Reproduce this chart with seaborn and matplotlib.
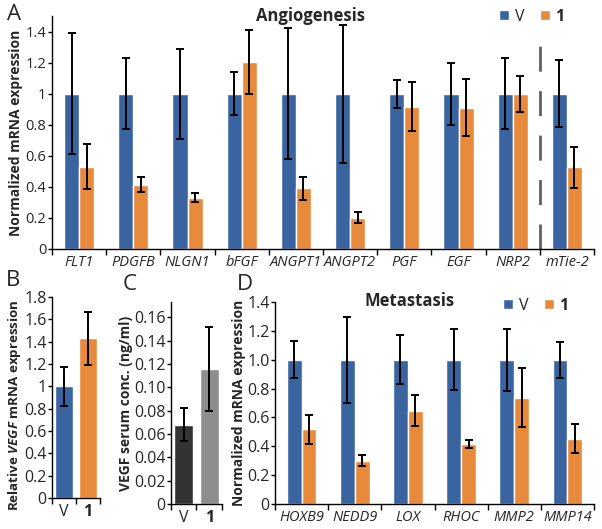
import numpy as np
import pandas as pd
import matplotlib
matplotlib.use('Agg')
import matplotlib.pyplot as plt
import seaborn as sns

# data
angio_genes = ['FLT1', 'PDGFB', 'NLGN1', 'bFGF', 'ANGPT1', 'ANGPT2', 'PGF', 'EGF', 'NRP2', 'mTie-2']
angio_v = [1, 1, 1, 1, 1, 1, 1, 1, 1, 1]
angio_v_err = [0.39, 0.23, 0.29, 0.14, 0.42, 0.445, 0.09, 0.20, 0.23, 0.215]
angio_1 = [0.53, 0.415, 0.33, 1.205, 0.39, 0.20, 0.915, 0.91, 1.0, 0.525]
angio_1_err = [0.145, 0.05, 0.03, 0.205, 0.072, 0.035, 0.157, 0.183, 0.115, 0.133]

vegf_groups = ['V', '1']
vegf_mrna = [1.0, 1.43]
vegf_mrna_err = [0.175, 0.24]
vegf_serum = [0.068, 0.116]
vegf_serum_err = [0.014, 0.036]

meta_genes = ['HOXB9', 'NEDD9', 'LOX', 'RHOC', 'MMP2', 'MMP14']
meta_v = [1, 1, 1, 1, 1, 1]
meta_v_err = [0.127, 0.298, 0.169, 0.211, 0.215, 0.126]
meta_1 = [0.517, 0.301, 0.646, 0.416, 0.738, 0.453]
meta_1_err = [0.098, 0.037, 0.107, 0.031, 0.205, 0.10]

BLUE = '#3A64A0'
ORANGE = '#E88A3C'

sns.set_theme(style='white')
plt.rcParams['font.family'] = ['Open Sans', 'DejaVu Sans']
plt.rcParams['mathtext.fontset'] = 'custom'
plt.rcParams['mathtext.it'] = 'Open Sans:italic:bold'
plt.rcParams['mathtext.rm'] = 'Open Sans:bold'
plt.rcParams['axes.edgecolor'] = 'black'
plt.rcParams['axes.linewidth'] = 1.0


def style_axis(ax, n, yticks, ylabels, ylim, fs):
    sns.despine(ax=ax)
    ax.set_xlim(-0.5, n - 0.5)
    ax.set_ylim(*ylim)
    ax.set_yticks(yticks)
    ax.set_yticklabels(ylabels, fontsize=fs)
    ax.set_xticks(np.arange(n))
    ax.set_xticks(np.arange(n + 1) - 0.5, minor=True)
    ax.tick_params(axis='x', which='major', length=0, pad=4)
    ax.tick_params(axis='x', which='minor', length=4, width=1, direction='out', bottom=True, color='black')
    ax.tick_params(axis='y', length=3, width=1, direction='out', left=True, pad=1, color='black')
    ax.set_xlabel('')


def grouped_panel(ax, genes, v, v_err, one, one_err):
    df = pd.DataFrame({
        'gene': genes * 2,
        'group': ['V'] * len(genes) + ['1'] * len(genes),
        'value': list(v) + list(one),
    })
    sns.barplot(data=df, x='gene', y='value', hue='group', hue_order=['V', '1'],
                palette={'V': BLUE, '1': ORANGE}, width=0.56, errorbar=None,
                saturation=1, ax=ax)
    for cont, err in zip(ax.containers, [v_err, one_err]):
        xs = [b.get_x() + b.get_width() / 2 for b in cont]
        hs = [b.get_height() for b in cont]
        ax.errorbar(xs, hs, yerr=err, fmt='none', ecolor='black',
                    elinewidth=1.4, capsize=3.2, capthick=1.4)
    handles, labels = ax.get_legend_handles_labels()
    ax.get_legend().remove()
    return handles, labels


def add_legend(ax, handles, labels, loc):
    leg = ax.legend(handles, labels, ncol=2, frameon=False, fontsize=11.5,
                    handlelength=0.6, handleheight=0.6, handletextpad=0.35,
                    columnspacing=1.0, loc='center', bbox_to_anchor=loc,
                    bbox_transform=ax.figure.transFigure)
    leg.get_texts()[1].set_fontweight('bold')


fig = plt.figure(figsize=(6.02, 5.29), dpi=100)
W, H = 602, 529


def box(l, r, t, b):
    return [l / W, 1 - b / H, (r - l) / W, (b - t) / H]


# A: angiogenesis
axA = fig.add_axes(box(52, 594, 16, 249))
h, l = grouped_panel(axA, angio_genes, angio_v, angio_v_err, angio_1, angio_1_err)
style_axis(axA, len(angio_genes), np.arange(0, 1.41, 0.2),
           ['0', '0.2', '0.4', '0.6', '0.8', '1', '1.2', '1.4'], (0, 1.5), 10.5)
axA.set_xticklabels(angio_genes, style='italic', fontsize=10.5)
axA.set_ylabel('Normalized mRNA expression', fontweight='bold', fontsize=10, labelpad=2)
axA.axvline(8.5, ymin=0, ymax=1.33 / 1.5, color='#606060', lw=2, ls=(0, (9, 7)))
add_legend(axA, h, l, (532 / W, 1 - 17 / H))
fig.text(310 / W, 1 - 16 / H, 'Angiogenesis', ha='center', va='center',
         fontweight='bold', fontsize=12)

# B: VEGF mRNA
axB = fig.add_axes(box(52, 100, 297, 498))
sns.barplot(x=vegf_groups, y=vegf_mrna, hue=vegf_groups, palette=[BLUE, ORANGE],
            width=0.78, errorbar=None, saturation=1, legend=False, ax=axB)
xs = [p.get_x() + p.get_width() / 2 for p in axB.patches]
axB.errorbar(xs, vegf_mrna, yerr=vegf_mrna_err, fmt='none', ecolor='black',
             elinewidth=1.4, capsize=3.2, capthick=1.4)
style_axis(axB, 2, np.arange(0, 1.81, 0.2),
           ['0', '0.2', '0.4', '0.6', '0.8', '1', '1.2', '1.4', '1.6', '1.8'], (0, 1.8), 11.5)
axB.set_xticklabels(vegf_groups, fontsize=11.5)
axB.get_xticklabels()[1].set_fontweight('bold')
axB.set_ylabel(r'Relative $\mathit{VEGF}$ mRNA expression', fontweight='bold',
               fontsize=9.6, labelpad=1)
axB.yaxis.set_label_coords(-0.6, 0.46)

# C: VEGF serum
axC = fig.add_axes(box(171, 222, 302, 504))
sns.barplot(x=vegf_groups, y=vegf_serum, hue=vegf_groups, palette=['#333333', '#8E8E8E'],
            width=0.76, errorbar=None, saturation=1, legend=False, ax=axC)
xs = [p.get_x() + p.get_width() / 2 for p in axC.patches]
axC.errorbar(xs, vegf_serum, yerr=vegf_serum_err, fmt='none', ecolor='black',
             elinewidth=1.4, capsize=3.2, capthick=1.4)
style_axis(axC, 2, np.arange(0, 0.161, 0.02),
           ['0', '0.02', '0.04', '0.06', '0.08', '0.10', '0.12', '0.14', '0.16'], (0, 0.173), 11.5)
axC.set_xticklabels(vegf_groups, fontsize=11.5)
axC.get_xticklabels()[1].set_fontweight('bold')
axC.set_ylabel('VEGF serum conc. (ng/ml)', fontweight='bold', fontsize=10, labelpad=1)

# D: metastasis
axD = fig.add_axes(box(275, 594, 302, 504))
h, l = grouped_panel(axD, meta_genes, meta_v, meta_v_err, meta_1, meta_1_err)
style_axis(axD, len(meta_genes), np.arange(0, 1.41, 0.2),
           ['0', '0.2', '0.4', '0.6', '0.8', '1.0', '1.2', '1.4'], (0, 1.4), 11.5)
axD.set_xticklabels(meta_genes, style='italic', fontsize=10.5)
axD.set_ylabel('Normalized mRNA expression', fontweight='bold', fontsize=10, labelpad=1)
add_legend(axD, h, l, (536 / W, 1 - 306 / H))
fig.text(410 / W, 1 - 301 / H, 'Metastasis', ha='center', va='center',
         fontweight='bold', fontsize=12)

# panel letters
for letter, x, y in [('A', 14, 14), ('B', 13, 281), ('C', 130, 285), ('D', 245, 285)]:
    fig.text(x / W, 1 - y / H, letter, ha='center', va='center', fontsize=16)

fig.savefig('out.png', dpi=100)
